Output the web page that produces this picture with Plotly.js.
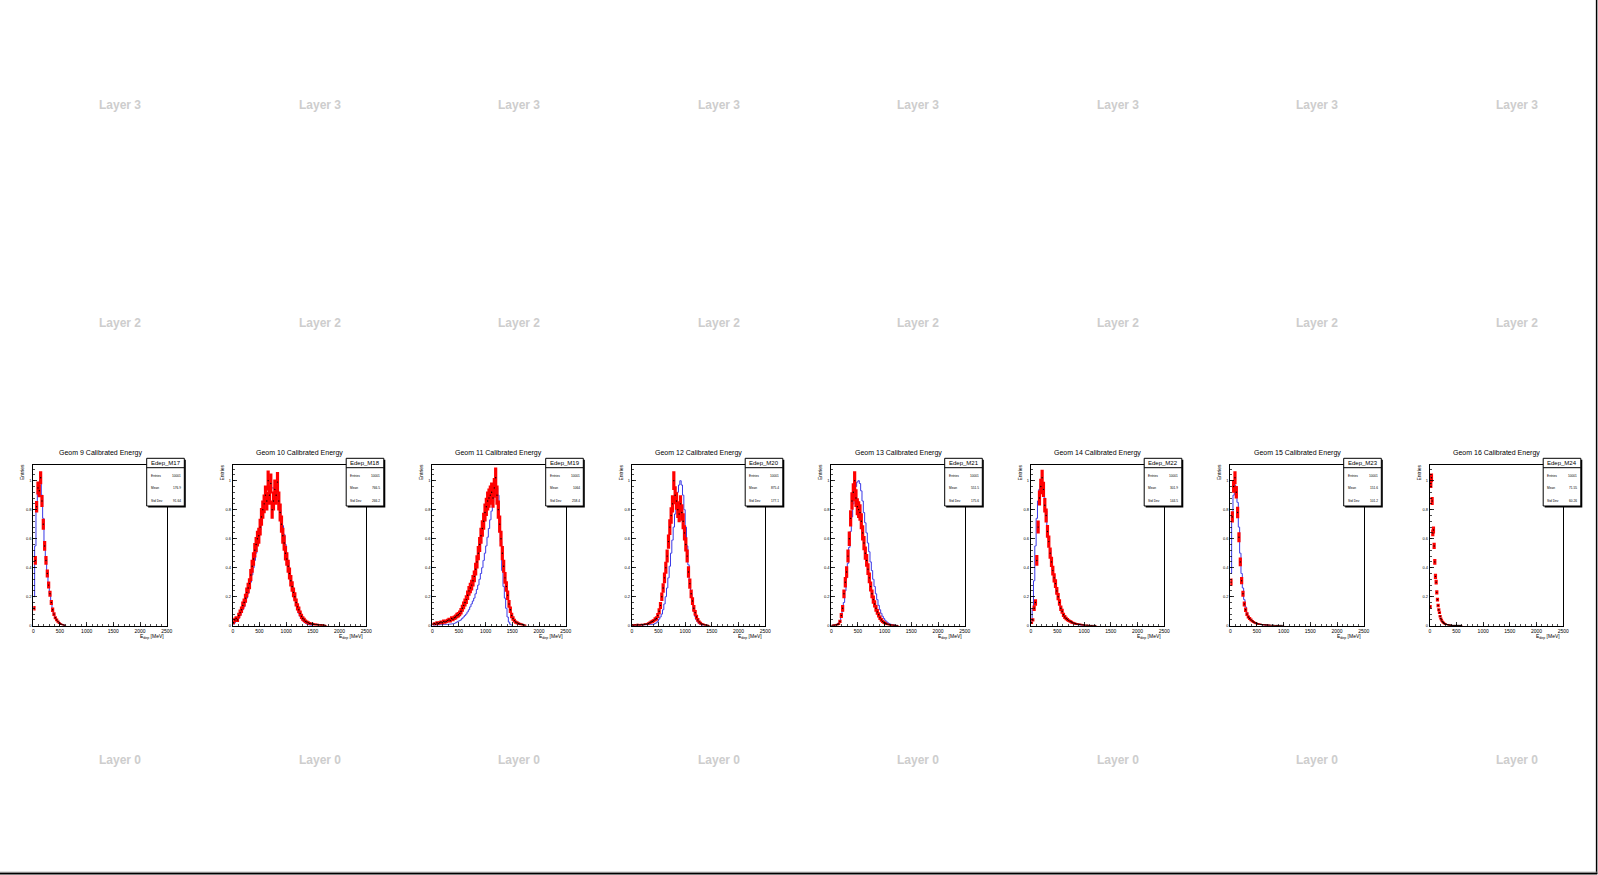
<!DOCTYPE html>
<html><head><meta charset="utf-8">
<script src="https://cdn.plot.ly/plotly-3.0.1.min.js"></script>
<style>html,body{margin:0;padding:0;background:#fff;overflow:hidden}#chart{width:1598px;height:875px}</style>
</head><body><div id="chart"></div>
<script>
// ---------- DATA ----------
const modules = ["M17","M18","M19","M20","M21","M22","M23","M24"];
const geoms = [9,10,11,12,13,14,15,16];
const entries = ["10001","10001","10001","10001","10001","10001","10001","10001"];
const means = ["176.9","766.5","1064","875.4","551.5","301.9","151.6","71.55"];
const stdDevs = ["91.64","266.2","258.4","177.1","175.6","144.5","101.2","60.26"];
const binWidths = [25,25,25,25,25,25,25,12.5]; // MeV per bin, bins start at 0
const layerNames = ["Layer 3","Layer 2","Layer 0"];
const layerRows = [0,1,3];
const xTickVals = [0,500,1000,1500,2000,2500];
const yTickVals = [0,0.2,0.4,0.6,0.8,1];

const red_M17 = [0.12,0.45,0.82,0.95,0.93,1.02,0.86,0.70,0.55,0.45,0.36,0.28,0.22,0.16,0.11,0.08,0.055,0.04,0.028,0.018,0.012,0.008,0.005,0.003];
const err_M17 = [0.015,0.03,0.04,0.045,0.045,0.045,0.042,0.038,0.034,0.03,0.027,0.024,0.021,0.018,0.015,0.013,0.011,0.009,0.008,0.006,0.005,0.004,0.003,0.002];
const blue_M17 = [0.20,0.55,0.80,0.93,0.99,1.0,0.90,0.74,0.58,0.46,0.37,0.29,0.22,0.16,0.115,0.082,0.058,0.041,0.029,0.019,0.012,0.008,0.005,0.003];

const red_M18 = [0.02,0.04,0.05,0.04,0.07,0.09,0.11,0.14,0.16,0.19,
 0.23,0.26,0.29,0.35,0.41,0.46,0.52,0.56,0.60,0.62,
 0.68,0.75,0.80,0.84,0.90,0.86,1.00,0.90,0.98,0.80,
 0.86,0.94,0.90,0.99,0.86,0.78,0.70,0.62,0.57,0.50,
 0.46,0.41,0.36,0.31,0.27,0.23,0.20,0.16,0.13,0.11,
 0.085,0.065,0.05,0.04,0.03,0.025,0.02,0.016,0.014,0.012,
 0.01,0.009,0.008,0.007,0.006,0.005,0.005,0.004,0.003,0.002];
const err_M18 = [0.010,0.014,0.016,0.014,0.019,0.021,0.023,0.026,0.028,0.031,
 0.034,0.036,0.038,0.041,0.045,0.047,0.050,0.052,0.054,0.055,
 0.058,0.061,0.063,0.064,0.066,0.065,0.070,0.066,0.069,0.063,
 0.065,0.068,0.066,0.070,0.065,0.062,0.059,0.055,0.053,0.050,
 0.047,0.045,0.042,0.039,0.036,0.034,0.031,0.028,0.025,0.023,
 0.020,0.018,0.016,0.014,0.012,0.011,0.010,0.009,0.008,0.008,
 0.007,0.007,0.006,0.006,0.005,0.005,0.005,0.004,0.004,0.003];
const blue_M18 = [0.01,0.02,0.03,0.04,0.05,0.07,0.09,0.11,0.13,0.16,
 0.19,0.22,0.26,0.30,0.35,0.40,0.45,0.50,0.56,0.61,
 0.66,0.71,0.76,0.80,0.84,0.87,0.90,0.92,0.94,0.95,
 0.95,0.94,0.92,0.89,0.85,0.80,0.75,0.69,0.63,0.56,
 0.50,0.44,0.38,0.32,0.27,0.22,0.18,0.14,0.11,0.085,
 0.065,0.048,0.035,0.025,0.018,0.012,0.008,0.005,0.003,0.002];

const red_M19 = [0.01,0.015,0.01,0.02,0.015,0.02,0.025,0.02,0.03,0.025,
 0.03,0.035,0.04,0.035,0.05,0.045,0.055,0.06,0.07,0.075,
 0.085,0.10,0.12,0.14,0.16,0.18,0.21,0.24,0.26,0.28,
 0.31,0.34,0.39,0.44,0.50,0.56,0.62,0.67,0.72,0.78,
 0.82,0.86,0.88,0.90,0.92,0.88,0.95,1.02,0.90,0.80,
 0.70,0.60,0.50,0.41,0.33,0.27,0.21,0.15,0.11,0.07,
 0.05,0.035,0.025,0.02,0.015,0.012,0.01,0.008,0.005,0.003];
const err_M19 = [0.007,0.009,0.007,0.010,0.009,0.010,0.011,0.010,0.012,0.011,
 0.012,0.013,0.014,0.013,0.016,0.015,0.016,0.017,0.019,0.019,
 0.020,0.022,0.024,0.026,0.028,0.030,0.032,0.034,0.036,0.037,
 0.039,0.041,0.044,0.046,0.049,0.052,0.055,0.057,0.059,0.062,
 0.063,0.065,0.066,0.066,0.067,0.066,0.068,0.071,0.066,0.063,
 0.059,0.054,0.049,0.045,0.040,0.036,0.032,0.027,0.023,0.019,
 0.016,0.013,0.011,0.010,0.009,0.008,0.007,0.006,0.005,0.004];
const blue_M19 = [0.003,0.004,0.005,0.005,0.006,0.006,0.007,0.007,0.008,0.008,
 0.009,0.009,0.010,0.011,0.012,0.013,0.015,0.02,0.025,0.03,
 0.035,0.04,0.05,0.06,0.07,0.08,0.095,0.11,0.13,0.15,
 0.17,0.19,0.22,0.25,0.28,0.32,0.36,0.40,0.45,0.50,
 0.55,0.61,0.67,0.73,0.79,0.85,0.90,0.94,0.95,0.90,
 0.75,0.58,0.38,0.27,0.19,0.12,0.06,0.025,0.01,0.003];

const red_M20 = [0.005,0.003,0.006,0.004,0.008,0.005,0.006,0.008,0.007,0.01,
 0.01,0.012,0.015,0.02,0.025,0.03,0.035,0.045,0.05,0.07,
 0.10,0.14,0.20,0.26,0.33,0.40,0.48,0.58,0.68,0.76,
 0.84,1.0,0.90,0.86,0.80,0.77,0.84,0.78,0.72,0.64,
 0.56,0.48,0.37,0.29,0.22,0.17,0.12,0.09,0.06,0.04,
 0.025,0.018,0.012,0.009,0.006,0.004,0.003,0.002];
const err_M20 = [0.005,0.004,0.005,0.004,0.006,0.005,0.005,0.006,0.005,0.006,
 0.006,0.007,0.008,0.009,0.010,0.011,0.012,0.014,0.015,0.017,
 0.021,0.024,0.029,0.033,0.037,0.041,0.045,0.049,0.054,0.057,
 0.060,0.065,0.062,0.060,0.058,0.057,0.060,0.057,0.055,0.052,
 0.049,0.045,0.040,0.035,0.030,0.027,0.023,0.019,0.016,0.013,
 0.010,0.009,0.007,0.006,0.005,0.004,0.004,0.003];
const blue_M20 = [0.002,0.002,0.003,0.003,0.003,0.004,0.004,0.005,0.005,0.006,
 0.006,0.007,0.007,0.008,0.008,0.009,0.01,0.015,0.02,0.03,
 0.045,0.06,0.08,0.11,0.15,0.20,0.26,0.33,0.41,0.50,
 0.59,0.68,0.77,0.85,0.92,0.97,1.0,0.97,0.90,0.80,
 0.68,0.55,0.42,0.31,0.22,0.15,0.10,0.065,0.04,0.025,
 0.015,0.008,0.004,0.002];

const red_M21 = [0.002,0.004,0.003,0.006,0.008,0.012,0.03,0.07,0.12,0.22,
 0.30,0.37,0.48,0.60,0.74,0.86,0.92,1.0,0.88,0.82,
 0.80,0.78,0.72,0.64,0.57,0.50,0.45,0.39,0.33,0.27,
 0.22,0.18,0.15,0.12,0.095,0.075,0.055,0.04,0.03,0.022,
 0.017,0.012,0.009,0.007,0.005,0.004,0.003,0.003,0.002,0.002];
const err_M21 = [0.003,0.004,0.004,0.005,0.006,0.007,0.011,0.017,0.023,0.030,
 0.036,0.040,0.045,0.050,0.056,0.060,0.062,0.065,0.061,0.059,
 0.058,0.057,0.055,0.052,0.049,0.046,0.044,0.041,0.037,0.034,
 0.030,0.028,0.025,0.023,0.020,0.018,0.015,0.013,0.011,0.010,
 0.008,0.007,0.006,0.005,0.005,0.004,0.004,0.004,0.003,0.003];
const blue_M21 = [0.002,0.003,0.004,0.006,0.01,0.02,0.035,0.06,0.10,0.16,
 0.24,0.33,0.43,0.54,0.65,0.75,0.84,0.91,0.96,0.99,
 1.0,0.98,0.93,0.86,0.78,0.71,0.64,0.57,0.51,0.44,
 0.38,0.32,0.27,0.22,0.18,0.14,0.11,0.085,0.065,0.05,
 0.037,0.027,0.02,0.014,0.01,0.007,0.005,0.003,0.002,0.001];

const red_M22 = [0.02,0.04,0.12,0.16,0.45,0.68,0.88,0.96,1.02,0.94,
 0.83,0.76,0.65,0.58,0.50,0.44,0.38,0.33,0.29,0.24,
 0.20,0.16,0.12,0.10,0.075,0.06,0.05,0.042,0.035,0.03,
 0.025,0.02,0.017,0.014,0.012,0.01,0.009,0.008,0.006,0.005,
 0.004,0.003,0.003,0.002,0.002,0.002,0.001,0.001,0.001];
const err_M22 = [0.008,0.011,0.019,0.022,0.037,0.045,0.052,0.054,0.056,0.053,
 0.050,0.048,0.044,0.042,0.039,0.036,0.034,0.032,0.030,0.027,
 0.025,0.022,0.019,0.017,0.015,0.013,0.012,0.011,0.010,0.010,
 0.009,0.008,0.007,0.007,0.006,0.006,0.005,0.005,0.004,0.004,
 0.003,0.003,0.003,0.002,0.002,0.002,0.002,0.002,0.002];
const blue_M22 = [0.03,0.12,0.31,0.55,0.74,0.86,0.94,0.98,0.99,0.95,
 0.88,0.79,0.69,0.60,0.52,0.45,0.38,0.32,0.27,0.22,
 0.18,0.145,0.115,0.09,0.072,0.058,0.047,0.038,0.031,0.025,
 0.02,0.016,0.013,0.01,0.008,0.006,0.005,0.004,0.003,0.002,0.002];

const red_M23 = [0.30,0.75,0.96,1.02,0.92,0.78,0.61,0.44,0.31,0.22,
 0.15,0.11,0.08,0.06,0.05,0.04,0.032,0.026,0.02,0.016,
 0.013,0.011,0.009,0.008,0.007,0.006,0.005,0.005,0.004,0.004,
 0.003,0.003,0.003,0.002,0.002,0.002,0.002,0.001,0.001,0.001];
const err_M23 = [0.025,0.039,0.044,0.045,0.043,0.040,0.035,0.030,0.025,0.021,
 0.017,0.015,0.013,0.011,0.010,0.009,0.008,0.007,0.006,0.006,
 0.005,0.005,0.004,0.004,0.004,0.003,0.003,0.003,0.003,0.003,
 0.002,0.002,0.002,0.002,0.002,0.002,0.002,0.001,0.001,0.001];
const blue_M23 = [0.36,0.77,0.90,0.97,0.96,0.85,0.68,0.50,0.36,0.26,
 0.18,0.13,0.09,0.068,0.052,0.041,0.033,0.026,0.021,0.017,
 0.014,0.011,0.009,0.007,0.006,0.005,0.004,0.003,0.003,0.002];

const red_M24 = [0.13,0.98,1.02,0.86,0.64,0.66,0.55,0.44,0.34,0.30,
 0.23,0.18,0.14,0.11,0.09,0.065,0.05,0.04,0.03,0.025,
 0.02,0.016,0.013,0.011,0.009,0.008,0.007,0.006,0.005,0.004,
 0.004,0.003,0.003,0.002,0.002,0.002,0.002,0.002,0.001,0.001,
 0.001,0.001,0.001,0.001,0.001,0.001,0.001,0.001];
const err_M24 = [0.012,0.03,0.03,0.028,0.024,0.024,0.022,0.02,0.018,0.016,
 0.015,0.013,0.012,0.01,0.009,0.008,0.007,0.006,0.005,0.005,
 0.005,0.004,0.004,0.004,0.003,0.003,0.003,0.003,0.002,0.002,
 0.002,0.002,0.002,0.002,0.002,0.002,0.002,0.002,0.001,0.001,
 0.001,0.001,0.001,0.001,0.001,0.001,0.001,0.001];
const blue_M24 = [];

const redSeries = [red_M17,red_M18,red_M19,red_M20,red_M21,red_M22,red_M23,red_M24];
const errSeries = [err_M17,err_M18,err_M19,err_M20,err_M21,err_M22,err_M23,err_M24];
const blueSeries = [blue_M17,blue_M18,blue_M19,blue_M20,blue_M21,blue_M22,blue_M23,blue_M24];

// ---------- GEOMETRY (pixels) ----------
const W = 1598, H = 875;
const COL_W = 199.5, ROW_H = 218.25;
const FL = 33.3, FR = 166.7, FT = 465, FB = 625.7;
const px = v => v / W;
const py = v => 1 - v / H;
const FONT = "Liberation Sans, Arial, Helvetica, sans-serif";

const traces = [];
const layout = {
  width: W, height: H, margin: {l:0, r:0, t:0, b:0},
  paper_bgcolor: "#fff", plot_bgcolor: "rgba(0,0,0,0)",
  showlegend: false, font: {family: FONT, color: "#000"},
  annotations: [], shapes: []
};

for (let i = 0; i < modules.length; i++) {
  const cx = i * COL_W;
  const s = i === 0 ? "" : String(i + 1);
  const bw = binWidths[i];
  layout["xaxis" + s] = {
    domain: [px(cx + FL), px(cx + FR)], range: [0, 2500], anchor: "y" + s,
    showline: true, linecolor: "#000", linewidth: 1, mirror: true,
    ticks: "inside", ticklen: 4, tickwidth: 0.8, tickcolor: "#000",
    tickvals: xTickVals, tickfont: {size: 5, family: FONT, color: "#000"},
    showgrid: false, zeroline: false, fixedrange: true,
    minor: {ticks: "inside", ticklen: 2, tickwidth: 0.7, tickcolor: "#000", dtick: 100, tick0: 0, showgrid: false}
  };
  layout["yaxis" + s] = {
    domain: [py(FB), py(FT)], range: [0, 1.108], anchor: "x" + s,
    showline: true, linecolor: "#000", linewidth: 1, mirror: true,
    ticks: "inside", ticklen: 4, tickwidth: 0.8, tickcolor: "#000",
    tickvals: yTickVals, tickfont: {size: 4, family: FONT, color: "#000"},
    showgrid: false, zeroline: false, fixedrange: true,
    minor: {ticks: "inside", ticklen: 2, tickwidth: 0.7, tickcolor: "#000", dtick: 0.04, tick0: 0, showgrid: false}
  };

  const blue = blueSeries[i];
  if (blue.length) {
    traces.push({
      type: "scatter", mode: "lines", xaxis: "x" + s, yaxis: "y" + s,
      x: blue.map((_, k) => (k + 0.5) * bw), y: blue,
      line: {color: "#3a3ae6", width: 1, shape: "hvh"}, hoverinfo: "skip"
    });
  }
  const red = redSeries[i];
  traces.push({
    type: "scatter", mode: "markers", xaxis: "x" + s, yaxis: "y" + s,
    x: red.map((_, k) => (k + 0.5) * bw), y: red,
    marker: {color: "#000", size: 1.4},
    error_y: {type: "data", array: errSeries[i], visible: true, color: "#ff0000", thickness: 3.2, width: 0},
    hoverinfo: "skip"
  });

  // panel title
  layout.annotations.push({xref: "paper", yref: "paper", x: px(cx + 100), y: py(452.5),
    text: "Geom " + geoms[i] + " Calibrated Energy", showarrow: false,
    xanchor: "center", yanchor: "middle", font: {size: 7, family: FONT, color: "#000"}});
  // axis titles
  layout.annotations.push({xref: "paper", yref: "paper", x: px(cx + 21.5), y: py(472.5),
    text: "Entries", textangle: -90, showarrow: false, xanchor: "center", yanchor: "middle",
    font: {size: 5, family: FONT, color: "#000"}});
  layout.annotations.push({xref: "paper", yref: "paper", x: px(cx + FR - 1), y: py(636.7),
    text: "E<sub>dep</sub> [MeV]", showarrow: false, xanchor: "right", yanchor: "middle",
    font: {size: 5, family: FONT, color: "#000"}});

  // stats box
  const bx0 = cx + 146.7, bx1 = cx + 184.3, by0 = 458.3, by1 = 506;
  layout.shapes.push({type: "rect", xref: "paper", yref: "paper", layer: "above",
    x0: px(bx0 + 1.5), x1: px(bx1 + 1.5), y0: py(by0 + 1.5), y1: py(by1 + 1.5),
    fillcolor: "#000", line: {width: 0}});
  layout.shapes.push({type: "rect", xref: "paper", yref: "paper", layer: "above",
    x0: px(bx0), x1: px(bx1), y0: py(by0), y1: py(by1),
    fillcolor: "#fff", line: {color: "#000", width: 1}});
  layout.shapes.push({type: "line", xref: "paper", yref: "paper", layer: "above",
    x0: px(bx0), x1: px(bx1), y0: py(467.7), y1: py(467.7), line: {color: "#000", width: 1}});
  layout.annotations.push({xref: "paper", yref: "paper", x: px((bx0 + bx1) / 2), y: py(463),
    text: "Edep_" + modules[i], showarrow: false, xanchor: "center", yanchor: "middle",
    font: {size: 6, family: FONT, color: "#000"}});
  const rows = [["Entries", entries[i], 475.7], ["Mean", means[i], 488.3], ["Std Dev", stdDevs[i], 501]];
  rows.forEach(r => {
    layout.annotations.push({xref: "paper", yref: "paper", x: px(bx0 + 1.8), y: py(r[2]),
      text: r[0], showarrow: false, xanchor: "left", yanchor: "middle",
      font: {size: 3.2, family: FONT, color: "#000"}});
    layout.annotations.push({xref: "paper", yref: "paper", x: px(bx1 - 1.5), y: py(r[2]),
      text: r[1], showarrow: false, xanchor: "right", yanchor: "middle",
      font: {size: 3.2, family: FONT, color: "#000"}});
  });

  // faint layer labels of the other rows
  layerNames.forEach((name, j) => {
    layout.annotations.push({xref: "paper", yref: "paper", x: px(cx + 120), y: py(layerRows[j] * ROW_H + 105),
      text: "<b>" + name + "</b>", showarrow: false, xanchor: "center", yanchor: "middle",
      font: {size: 12, family: FONT, color: "#cdcdcd"}});
  });
}

// canvas border (right and bottom)
layout.shapes.push({type: "line", xref: "paper", yref: "paper", layer: "above",
  x0: px(1596.6), x1: px(1596.6), y0: py(0), y1: py(874), line: {color: "#000", width: 1.5}});
layout.shapes.push({type: "line", xref: "paper", yref: "paper", layer: "above",
  x0: 0, x1: px(1597.3), y0: py(872.2), y1: py(872.2), line: {color: "#999", width: 1}});
layout.shapes.push({type: "line", xref: "paper", yref: "paper", layer: "above",
  x0: 0, x1: px(1597.3), y0: py(873.6), y1: py(873.6), line: {color: "#000", width: 1.6}});

Plotly.newPlot("chart", traces, layout, {displayModeBar: false, staticPlot: true});
</script>
</body></html>
